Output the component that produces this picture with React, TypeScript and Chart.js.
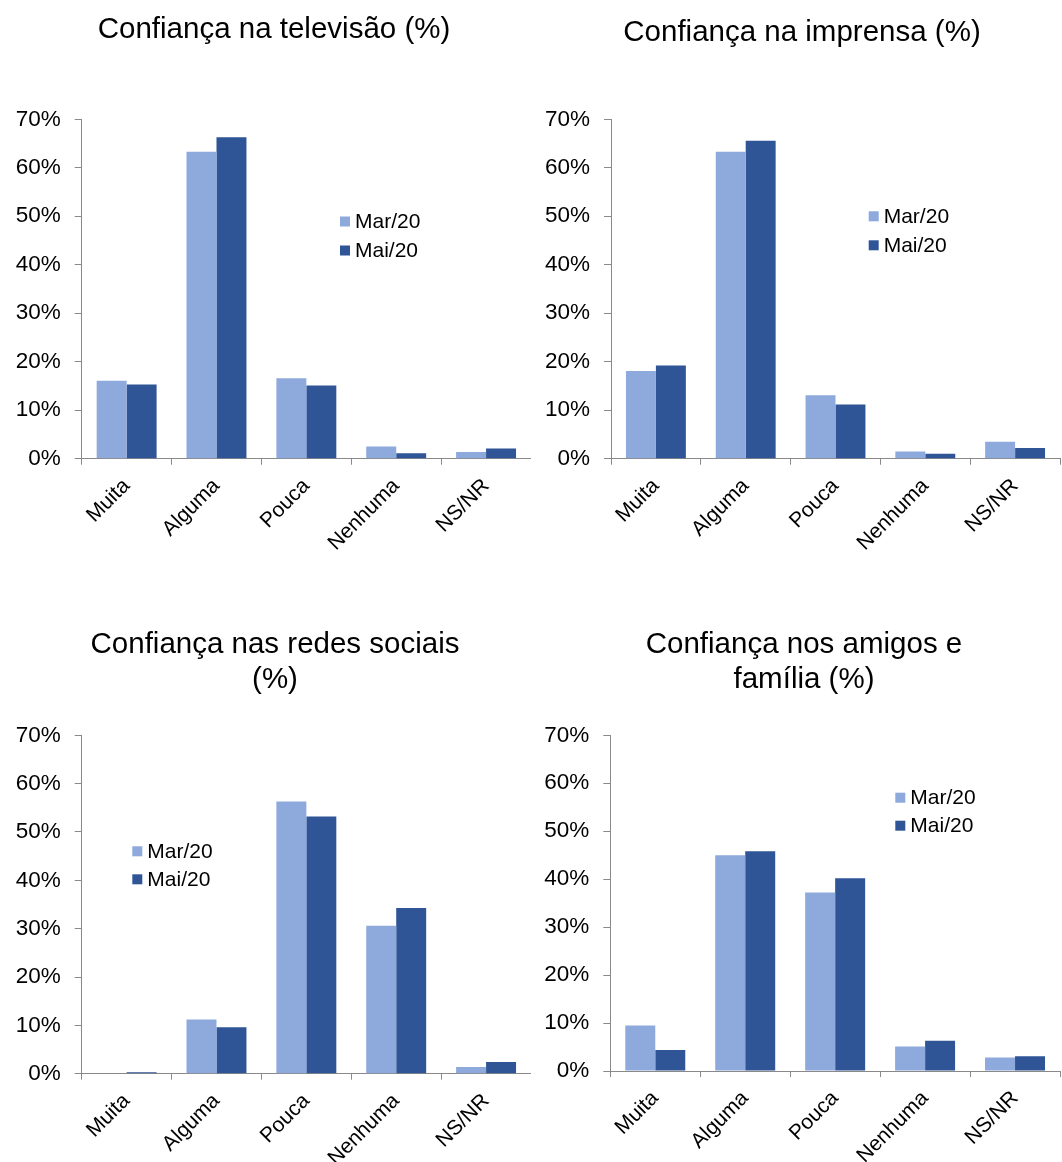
import React, { useEffect, useRef } from 'react';
import { Chart, registerables } from 'chart.js';

Chart.register(...registerables);

// ---------- data ----------
const categories = ['Muita', 'Alguma', 'Pouca', 'Nenhuma', 'NS/NR'];
const seriesNames = ['Mar/20', 'Mai/20'];
const yTickLabels = ['0%', '10%', '20%', '30%', '40%', '50%', '60%', '70%'];

const tvMar = [16.1, 63.3, 16.6, 2.5, 1.4];
const tvMai = [15.3, 66.3, 15.1, 1.1, 2.1];

const pressMar = [18.1, 63.3, 13.1, 1.5, 3.5];
const pressMai = [19.2, 65.6, 11.2, 1.0, 2.2];

const socialMar = [0, 11.2, 56.3, 30.6, 1.4];
const socialMai = [0.3, 9.6, 53.2, 34.3, 2.4];

const friendsMar = [9.5, 45.0, 37.2, 5.1, 2.8];
const friendsMai = [4.4, 45.8, 40.2, 6.3, 3.1];

const titleTv = ['Confiança na televisão (%)'];
const titlePress = ['Confiança na imprensa (%)'];
const titleSocial = ['Confiança nas redes sociais', '(%)'];
const titleFriends = ['Confiança nos amigos e', 'família (%)'];

// ---------- styles ----------
const COLORS = ['#8EA9DB', '#2F5597'];
const AXIS = '#898989';
const FONT = "'Liberation Sans', Arial, Helvetica, sans-serif";

type PanelLayout = {
  x: number;
  y: number;
  w: number;
  h: number;
  left: number;
  top: number;
  bottom: number;
  right: number;
  titleX: number;
  titleY: number[];
  legendX: number;
  legendY: number;
  legendGap: number;
};

const layoutTL: PanelLayout = {
  x: 0, y: 0, w: 531, h: 581,
  left: 81.7, top: 119.3, bottom: 458.7, right: 0,
  titleX: 274, titleY: [38],
  legendX: 340, legendY: 221.5, legendGap: 29,
};
const layoutTR: PanelLayout = {
  x: 531, y: 0, w: 531, h: 581,
  left: 80, top: 119.3, bottom: 458.7, right: 2,
  titleX: 271, titleY: [41],
  legendX: 337.7, legendY: 216.3, legendGap: 29,
};
const layoutBL: PanelLayout = {
  x: 0, y: 581, w: 531, h: 581,
  left: 81.7, top: 154.3, bottom: 492.7, right: 0,
  titleX: 275, titleY: [72.3, 107],
  legendX: 132.3, legendY: 270.3, legendGap: 28,
};
const layoutBR: PanelLayout = {
  x: 531, y: 581, w: 531, h: 581,
  left: 79.3, top: 154.3, bottom: 490, right: 2,
  titleX: 273, titleY: [72.3, 107],
  legendX: 364.3, legendY: 216.7, legendGap: 28,
};

function makeDecor(title: string[], L: PanelLayout) {
  return {
    id: 'panelDecor',
    afterDraw(chart: any) {
      const ctx = chart.ctx as CanvasRenderingContext2D;
      ctx.save();
      ctx.fillStyle = '#000';
      ctx.font = `29.5px ${FONT}`;
      ctx.textAlign = 'center';
      ctx.textBaseline = 'alphabetic';
      title.forEach((line, i) => ctx.fillText(line, L.titleX, L.titleY[i]));

      ctx.font = `21px ${FONT}`;
      ctx.textAlign = 'left';
      ctx.textBaseline = 'middle';
      chart.data.datasets.forEach((ds: any, i: number) => {
        const cy = L.legendY + i * L.legendGap;
        ctx.fillStyle = ds.backgroundColor;
        ctx.fillRect(L.legendX, cy - 5, 10, 10);
        ctx.fillStyle = '#000';
        ctx.fillText(ds.label, L.legendX + 15, cy + 1);
      });
      ctx.restore();
    },
  };
}

function Panel({ L, title, mar, mai }: { L: PanelLayout; title: string[]; mar: number[]; mai: number[] }) {
  const ref = useRef<HTMLCanvasElement | null>(null);
  useEffect(() => {
    if (!ref.current) return;
    const chart = new Chart(ref.current, {
      type: 'bar',
      data: {
        labels: categories,
        datasets: [
          { label: seriesNames[0], data: mar, backgroundColor: COLORS[0], borderWidth: 0, categoryPercentage: 0.667, barPercentage: 1 },
          { label: seriesNames[1], data: mai, backgroundColor: COLORS[1], borderWidth: 0, categoryPercentage: 0.667, barPercentage: 1 },
        ],
      },
      options: {
        responsive: false,
        animation: false,
        devicePixelRatio: 1,
        layout: { padding: { top: L.top, right: L.right, left: 0, bottom: 0 } },
        plugins: {
          legend: { display: false },
          title: { display: false },
          tooltip: { enabled: false },
        },
        scales: {
          x: {
            grid: { drawOnChartArea: false, offset: true, tickLength: 6, color: AXIS, lineWidth: 1 },
            border: { color: AXIS, width: 1 },
            ticks: {
              maxRotation: 45,
              minRotation: 45,
              autoSkip: false,
              padding: 9,
              color: '#000',
              font: { size: 21, family: FONT },
            },
            afterFit: (s: any) => {
              s.height = L.h - L.bottom;
            },
          },
          y: {
            min: 0,
            max: 70,
            grid: { drawOnChartArea: false, tickLength: 7, color: AXIS, lineWidth: 1 },
            border: { color: AXIS, width: 1 },
            ticks: {
              stepSize: 10,
              padding: 14,
              color: '#000',
              font: { size: 22.5, family: FONT },
              callback: (v: any) => yTickLabels[Math.round(Number(v) / 10)],
            },
            afterFit: (s: any) => {
              s.width = L.left;
            },
          },
        },
      } as any,
      plugins: [makeDecor(title, L)],
    });
    return () => chart.destroy();
  }, []);
  return (
    <canvas
      ref={ref}
      width={L.w}
      height={L.h}
      style={{ position: 'absolute', left: L.x, top: L.y, width: L.w, height: L.h }}
    />
  );
}

export default function App() {
  return (
    <div style={{ position: 'absolute', left: 0, top: 0, width: 1062, height: 1162, background: '#fff' }}>
      <Panel L={layoutTL} title={titleTv} mar={tvMar} mai={tvMai} />
      <Panel L={layoutTR} title={titlePress} mar={pressMar} mai={pressMai} />
      <Panel L={layoutBL} title={titleSocial} mar={socialMar} mai={socialMai} />
      <Panel L={layoutBR} title={titleFriends} mar={friendsMar} mai={friendsMai} />
    </div>
  );
}
